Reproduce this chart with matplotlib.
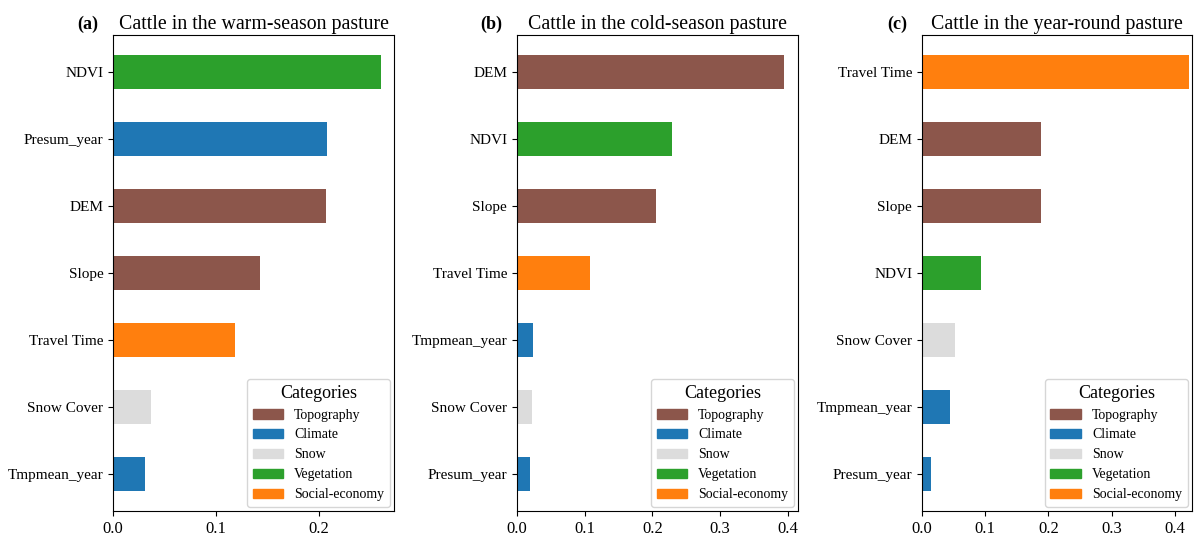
import matplotlib.pyplot as plt
from matplotlib.patches import Patch

plt.rcParams["font.family"] = ["Liberation Serif", "DejaVu Serif"]

# category colours
CAT_COLORS = {
    "Topography": "#8c564b",
    "Climate": "#1f77b4",
    "Snow": "#dcdcdc",
    "Vegetation": "#2ca02c",
    "Social-economy": "#ff7f0e",
}

# (a) warm-season pasture, top to bottom
warm_vars = ["NDVI", "Presum_year", "DEM", "Slope", "Travel Time", "Snow Cover", "Tmpmean_year"]
warm_vals = [0.260, 0.208, 0.207, 0.143, 0.118, 0.037, 0.031]
warm_cats = ["Vegetation", "Climate", "Topography", "Topography", "Social-economy", "Snow", "Climate"]

# (b) cold-season pasture
cold_vars = ["DEM", "NDVI", "Slope", "Travel Time", "Tmpmean_year", "Snow Cover", "Presum_year"]
cold_vals = [0.394, 0.229, 0.205, 0.108, 0.024, 0.022, 0.019]
cold_cats = ["Topography", "Vegetation", "Topography", "Social-economy", "Climate", "Snow", "Climate"]

# (c) year-round pasture
year_vars = ["Travel Time", "DEM", "Slope", "NDVI", "Snow Cover", "Tmpmean_year", "Presum_year"]
year_vals = [0.422, 0.188, 0.188, 0.093, 0.052, 0.044, 0.014]
year_cats = ["Social-economy", "Topography", "Topography", "Vegetation", "Snow", "Climate", "Climate"]

panels = [
    ("(a)", "Cattle in the warm-season pasture", warm_vars, warm_vals, warm_cats, 0.273, [0.0, 0.1, 0.2]),
    ("(b)", "Cattle in the cold-season pasture", cold_vars, cold_vals, cold_cats, 0.415, [0.0, 0.1, 0.2, 0.3, 0.4]),
    ("(c)", "Cattle in the year-round pasture", year_vars, year_vals, year_cats, 0.427, [0.0, 0.1, 0.2, 0.3, 0.4]),
]

axes_pos = [
    [0.0946, 0.0484, 0.2352, 0.8864],
    [0.4326, 0.0484, 0.2352, 0.8864],
    [0.7715, 0.0484, 0.2260, 0.8864],
]

fig = plt.figure(figsize=(11.95, 5.37), dpi=100)

for pos, (tag, title, names, vals, cats, xmax, ticks) in zip(axes_pos, panels):
    ax = fig.add_axes(pos)
    n = len(names)
    ypos = list(range(n - 1, -1, -1))
    ax.barh(ypos, vals, height=0.5, color=[CAT_COLORS[c] for c in cats])
    ax.set_yticks(ypos)
    ax.set_yticklabels(names, fontsize=11)
    ax.set_ylim(-0.55, n - 0.45)
    ax.set_xlim(0, xmax)
    ax.set_xticks(ticks)
    ax.set_xticklabels([f"{t:.1f}" for t in ticks], fontsize=12)
    ax.set_title(title, fontsize=14.3, pad=4)
    ax.text(-0.09, 1.005, tag, transform=ax.transAxes, fontsize=13,
            fontweight="bold", ha="center", va="bottom")

    handles = [Patch(color=c, label=k) for k, c in CAT_COLORS.items()]
    ax.legend(handles=handles, title="Categories", loc="lower right",
              fontsize=10, title_fontsize=13, framealpha=0.8,
              handlelength=2.2, handleheight=0.7, labelspacing=0.5,
              borderaxespad=0.3)

fig.savefig("out.png", dpi=100)
